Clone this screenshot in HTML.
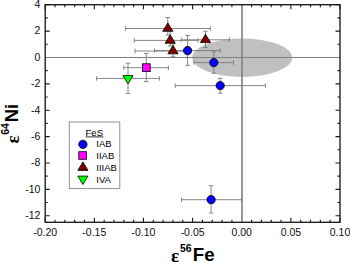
<!DOCTYPE html><html><head><meta charset="utf-8"><style>html,body{margin:0;padding:0;background:#fff;}svg{display:block;}text{font-family:"Liberation Sans",sans-serif;}</style></head><body>
<svg width="350" height="262" viewBox="0 0 350 262">
<rect width="350" height="262" fill="#fff"/>
<ellipse cx="242.2" cy="57.7" rx="50" ry="19.2" fill="#c0c0c0"/>
<line x1="45.2" y1="57.5" x2="340.0" y2="57.5" stroke="#808080" stroke-width="1"/>
<line x1="242" y1="4.7" x2="242" y2="222.3" stroke="#808080" stroke-width="1.6"/>
<path d="M154.6 50.6H187.6M154.6 48.3V52.9M187.6 50.6H220.3M220.3 48.3V52.9M187.6 35.5V50.6M185.3 35.5H189.9M187.6 50.6V65.4M185.3 65.4H189.9" stroke="#7a7a7a" stroke-width="0.9" fill="none"/>
<path d="M193.9 62.6H213.8M193.9 60.3V64.9M213.8 62.6H233.5M233.5 60.3V64.9M213.8 51.9V62.6M211.5 51.9H216.1M213.8 62.6V73.2M211.5 73.2H216.1" stroke="#7a7a7a" stroke-width="0.9" fill="none"/>
<path d="M175.2 85.6H220.2M175.2 83.3V87.9M220.2 85.6H265.4M265.4 83.3V87.9M220.2 78.3V85.6M217.9 78.3H222.5M220.2 85.6V93.2M217.9 93.2H222.5" stroke="#7a7a7a" stroke-width="0.9" fill="none"/>
<path d="M181.6 199.7H211.1M181.6 197.4V202.0M211.1 199.7H241.5M241.5 197.4V202.0M211.1 185.8V199.7M208.8 185.8H213.4M211.1 199.7V213.0M208.8 213.0H213.4" stroke="#7a7a7a" stroke-width="0.9" fill="none"/>
<path d="M123.8 67.7H146.3M123.8 65.4V70.0M146.3 67.7H168.4M168.4 65.4V70.0M146.3 53.4V67.7M144.0 53.4H148.6M146.3 67.7V81.6M144.0 81.6H148.6" stroke="#7a7a7a" stroke-width="0.9" fill="none"/>
<path d="M96.6 78.4H128.0M96.6 76.1V80.7M128.0 78.4H159.4M159.4 76.1V80.7M128.0 63.2V78.4M125.7 63.2H130.3M128.0 78.4V93.4M125.7 93.4H130.3" stroke="#7a7a7a" stroke-width="0.9" fill="none"/>
<path d="M125.4 28.5H167.8M125.4 26.2V30.8M167.8 28.5H210.3M210.3 26.2V30.8M167.8 17.5V28.5M165.5 17.5H170.1M167.8 28.5V35.0M165.5 35.0H170.1" stroke="#7a7a7a" stroke-width="0.9" fill="none"/>
<path d="M134.3 40.4H170.2M134.3 38.1V42.7M170.2 40.4H198.0M198.0 38.1V42.7M170.2 30.0V40.4M167.9 30.0H172.5M170.2 40.4V46.0M167.9 46.0H172.5" stroke="#7a7a7a" stroke-width="0.9" fill="none"/>
<path d="M181.3 39.8H205.5M181.3 37.5V42.1M205.5 39.8H229.4M229.4 37.5V42.1M205.5 31.2V39.8M203.2 31.2H207.8M205.5 39.8V47.5M203.2 47.5H207.8" stroke="#7a7a7a" stroke-width="0.9" fill="none"/>
<path d="M135.0 51.0H173.0M135.0 48.7V53.3M173.0 51.0H190.0M190.0 48.7V53.3M173.0 44.0V51.0M170.7 44.0H175.3M173.0 51.0V56.8M170.7 56.8H175.3" stroke="#7a7a7a" stroke-width="0.9" fill="none"/>
<circle cx="187.60" cy="50.60" r="4.15" fill="#0000ff" stroke="#000" stroke-width="0.8"/>
<circle cx="213.80" cy="62.60" r="4.15" fill="#0000ff" stroke="#000" stroke-width="0.8"/>
<circle cx="220.20" cy="85.60" r="4.15" fill="#0000ff" stroke="#000" stroke-width="0.8"/>
<circle cx="211.10" cy="199.70" r="4.15" fill="#0000ff" stroke="#000" stroke-width="0.8"/>
<rect x="142.40" y="63.80" width="7.80" height="7.80" fill="#ff00ff" stroke="#000" stroke-width="0.8"/>
<path d="M128.00 84.00L133.10 75.60L122.90 75.60Z" fill="#00ff00" stroke="#000" stroke-width="0.8"/>
<path d="M167.80 22.90L172.90 31.30L162.70 31.30Z" fill="#800000" stroke="#000" stroke-width="0.8"/>
<path d="M170.20 34.80L175.30 43.20L165.10 43.20Z" fill="#800000" stroke="#000" stroke-width="0.8"/>
<path d="M205.50 34.20L210.60 42.60L200.40 42.60Z" fill="#800000" stroke="#000" stroke-width="0.8"/>
<path d="M173.00 45.40L178.10 53.80L167.90 53.80Z" fill="#800000" stroke="#000" stroke-width="0.8"/>
<path d="M45.20 222.30V217.80M45.20 4.70V9.20M55.03 222.30V219.80M55.03 4.70V7.20M64.85 222.30V219.80M64.85 4.70V7.20M74.68 222.30V219.80M74.68 4.70V7.20M84.51 222.30V219.80M84.51 4.70V7.20M94.33 222.30V217.80M94.33 4.70V9.20M104.16 222.30V219.80M104.16 4.70V7.20M113.99 222.30V219.80M113.99 4.70V7.20M123.81 222.30V219.80M123.81 4.70V7.20M133.64 222.30V219.80M133.64 4.70V7.20M143.47 222.30V217.80M143.47 4.70V9.20M153.29 222.30V219.80M153.29 4.70V7.20M163.12 222.30V219.80M163.12 4.70V7.20M172.95 222.30V219.80M172.95 4.70V7.20M182.77 222.30V219.80M182.77 4.70V7.20M192.60 222.30V217.80M192.60 4.70V9.20M202.43 222.30V219.80M202.43 4.70V7.20M212.25 222.30V219.80M212.25 4.70V7.20M222.08 222.30V219.80M222.08 4.70V7.20M231.91 222.30V219.80M231.91 4.70V7.20M251.56 222.30V219.80M251.56 4.70V7.20M261.39 222.30V219.80M261.39 4.70V7.20M271.21 222.30V219.80M271.21 4.70V7.20M281.04 222.30V219.80M281.04 4.70V7.20M290.87 222.30V217.80M290.87 4.70V9.20M300.69 222.30V219.80M300.69 4.70V7.20M310.52 222.30V219.80M310.52 4.70V7.20M320.35 222.30V219.80M320.35 4.70V7.20M330.17 222.30V219.80M330.17 4.70V7.20M340.00 222.30V217.80M340.00 4.70V9.20M45.20 4.70H49.70M340.00 4.70H335.50M45.20 17.89H47.70M340.00 17.89H337.50M45.20 31.08H49.70M340.00 31.08H335.50M45.20 44.26H47.70M340.00 44.26H337.50M45.20 70.64H47.70M340.00 70.64H337.50M45.20 83.83H49.70M340.00 83.83H335.50M45.20 97.02H47.70M340.00 97.02H337.50M45.20 110.20H49.70M340.00 110.20H335.50M45.20 123.39H47.70M340.00 123.39H337.50M45.20 136.58H49.70M340.00 136.58H335.50M45.20 149.77H47.70M340.00 149.77H337.50M45.20 162.95H49.70M340.00 162.95H335.50M45.20 176.14H47.70M340.00 176.14H337.50M45.20 189.33H49.70M340.00 189.33H335.50M45.20 202.52H47.70M340.00 202.52H337.50M45.20 215.71H49.70M340.00 215.71H335.50" stroke="#1a1a1a" stroke-width="1.1" fill="none"/>
<rect x="45.20" y="4.70" width="294.80" height="217.60" stroke="#1a1a1a" stroke-width="1.35" fill="none"/>
<text x="40.4" y="8.00" font-size="10.5" text-anchor="end" fill="#111">4</text>
<text x="40.4" y="34.38" font-size="10.5" text-anchor="end" fill="#111">2</text>
<text x="40.4" y="60.75" font-size="10.5" text-anchor="end" fill="#111">0</text>
<text x="40.4" y="87.13" font-size="10.5" text-anchor="end" fill="#111">-2</text>
<text x="40.4" y="113.50" font-size="10.5" text-anchor="end" fill="#111">-4</text>
<text x="40.4" y="139.88" font-size="10.5" text-anchor="end" fill="#111">-6</text>
<text x="40.4" y="166.25" font-size="10.5" text-anchor="end" fill="#111">-8</text>
<text x="40.4" y="192.63" font-size="10.5" text-anchor="end" fill="#111">-10</text>
<text x="40.4" y="219.01" font-size="10.5" text-anchor="end" fill="#111">-12</text>
<text x="45.20" y="235.7" font-size="10.5" text-anchor="middle" fill="#111">-0.20</text>
<text x="94.33" y="235.7" font-size="10.5" text-anchor="middle" fill="#111">-0.15</text>
<text x="143.47" y="235.7" font-size="10.5" text-anchor="middle" fill="#111">-0.10</text>
<text x="192.60" y="235.7" font-size="10.5" text-anchor="middle" fill="#111">-0.05</text>
<text x="241.73" y="235.7" font-size="10.5" text-anchor="middle" fill="#111">0.00</text>
<text x="290.87" y="235.7" font-size="10.5" text-anchor="middle" fill="#111">0.05</text>
<text x="340.00" y="235.7" font-size="10.5" text-anchor="middle" fill="#111">0.10</text>
<text x="170.9" y="262.0" font-size="19" font-weight="bold" style="font-family:'Liberation Serif',serif" fill="#000">&#949;</text>
<text x="180" y="252.4" font-size="10.5" font-weight="bold" fill="#000">56</text>
<text x="192.7" y="261.2" font-size="18.8" font-weight="bold" fill="#000">Fe</text>
<g transform="translate(18.2,142.8) rotate(-90)">
<text x="-0.6" y="0.3" font-size="19" font-weight="bold" style="font-family:'Liberation Serif',serif" fill="#000">&#949;</text>
<text x="8.0" y="-9.3" font-size="10.5" font-weight="bold" fill="#000">64</text>
<text x="20.5" y="0" font-size="18.5" font-weight="bold" fill="#000">Ni</text>
</g>
<rect x="69.3" y="122" width="50.5" height="66.6" fill="#fff" stroke="#888" stroke-width="0.9"/>
<text x="85.5" y="135.5" font-size="9.6" fill="#000">FeS</text>
<line x1="85.7" y1="136.9" x2="103.4" y2="136.9" stroke="#000" stroke-width="0.8"/>
<circle cx="82.90" cy="144.30" r="4.15" fill="#0000ff" stroke="#000" stroke-width="0.8"/>
<text x="96.3" y="147.3" font-size="9.5" fill="#000">IAB</text>
<rect x="78.80" y="151.70" width="7.60" height="7.60" fill="#ff00ff" stroke="#000" stroke-width="0.8"/>
<text x="96.3" y="158.8" font-size="9.5" fill="#000">IIAB</text>
<path d="M82.90 162.00L88.00 170.40L77.80 170.40Z" fill="#800000" stroke="#000" stroke-width="0.8"/>
<text x="96.3" y="170.5" font-size="9.5" fill="#000">IIIAB</text>
<path d="M82.90 184.50L88.00 176.10L77.80 176.10Z" fill="#00ff00" stroke="#000" stroke-width="0.8"/>
<text x="96.3" y="182.5" font-size="9.5" fill="#000">IVA</text>
</svg></body></html>
